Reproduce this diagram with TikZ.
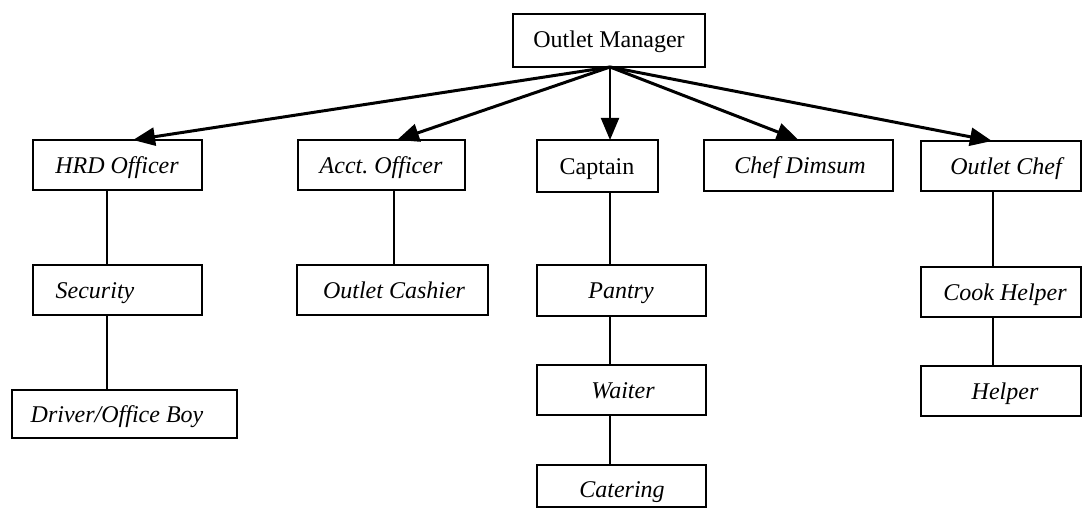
\documentclass[tikz,border=0pt]{standalone}
\usepackage{fontspec}
\setmainfont{Liberation Serif}
\usetikzlibrary{arrows.meta}
\frenchspacing
\newcommand\orgbox[8]{%
  \node[orgframe, minimum width={#4-#2}, minimum height={#5-#3}] (#1) at ({(#2+#4)/2},{(#3+#5)/2}) {};
  \node[orglbl] (#1-t) at (#6,#7) {#8};}
\begin{document}
\begin{tikzpicture}[x=1pt,y=-1pt,
  orgframe/.style={draw, line width=1.8pt, inner sep=0pt, outer sep=0pt},
  orglbl/.style={inner sep=0pt, font=\fontsize{24}{28}\selectfont\itshape, text height=16pt, text depth=0pt},
  link/.style={line width=1.8pt},
  mainarrow/.style={line width=3pt, -{Triangle[length=22pt,width=18pt]}},
  vertarrow/.style={line width=2pt, -{Triangle[length=22pt,width=18pt]}}]
\useasboundingbox (0,0) rectangle (1083,508);
\fill[white] (0,0) rectangle (1083,508);
% boxes
\orgbox{om}{513}{14}{705}{67}{609}{40}{\upshape Outlet Manager}
\orgbox{hrd}{33}{140}{202}{190}{117}{165}{HRD Officer}
\orgbox{acct}{298}{140}{465}{190}{381}{165}{Acct.\ Officer}
\orgbox{cap}{537}{140}{658}{192}{597}{166}{\upshape Captain}
\orgbox{dim}{704}{140}{893}{191}{800}{165}{Chef Dimsum}
\orgbox{och}{921}{141}{1081}{191}{1006}{166}{Outlet Chef}
\orgbox{sec}{33}{265}{202}{315}{95}{290}{Security}
\orgbox{cash}{297}{265}{488}{315}{394}{290}{Outlet Cashier}
\orgbox{pan}{537}{265}{706}{316}{621}{290}{Pantry}
\orgbox{cook}{921}{267}{1081}{317}{1005}{292}{Cook Helper}
\orgbox{drv}{12}{390}{237}{438}{117}{414}{Driver/Office Boy}
\orgbox{wai}{537}{365}{706}{415}{623}{390}{Waiter}
\orgbox{cat}{537}{465}{706}{507}{622}{489}{Catering}
\orgbox{hlp}{921}{366}{1081}{416}{1005}{391}{Helper}
% arrows from manager
\draw[mainarrow] ([xshift=1pt]om.south) -- ([xshift=15.5pt]hrd.north);
\draw[mainarrow] ([xshift=1pt]om.south) -- ([xshift=15.5pt]acct.north);
\draw[vertarrow] ([xshift=1pt]om.south) -- ([xshift=12.5pt]cap.north);
\draw[mainarrow] ([xshift=1pt]om.south) -- (dim.north);
\draw[mainarrow] ([xshift=1pt]om.south) -- ([xshift=-9pt]och.north);
% vertical links
\draw[link] ([xshift=-10.5pt]hrd.south) -- ([xshift=-10.5pt]hrd.south |- sec.north);
\draw[link] ([xshift=-10.5pt]sec.south) -- ([xshift=-10.5pt]sec.south |- drv.north);
\draw[link] ([xshift=12.5pt]acct.south) -- ([xshift=12.5pt]acct.south |- cash.north);
\draw[link] ([xshift=12.5pt]cap.south) -- ([xshift=12.5pt]cap.south |- pan.north);
\draw[link] ([xshift=-11.5pt]pan.south) -- ([xshift=-11.5pt]pan.south |- wai.north);
\draw[link] ([xshift=-11.5pt]wai.south) -- ([xshift=-11.5pt]wai.south |- cat.north);
\draw[link] ([xshift=-8pt]och.south) -- ([xshift=-8pt]och.south |- cook.north);
\draw[link] ([xshift=-8pt]cook.south) -- ([xshift=-8pt]cook.south |- hlp.north);
\end{tikzpicture}
\end{document}
